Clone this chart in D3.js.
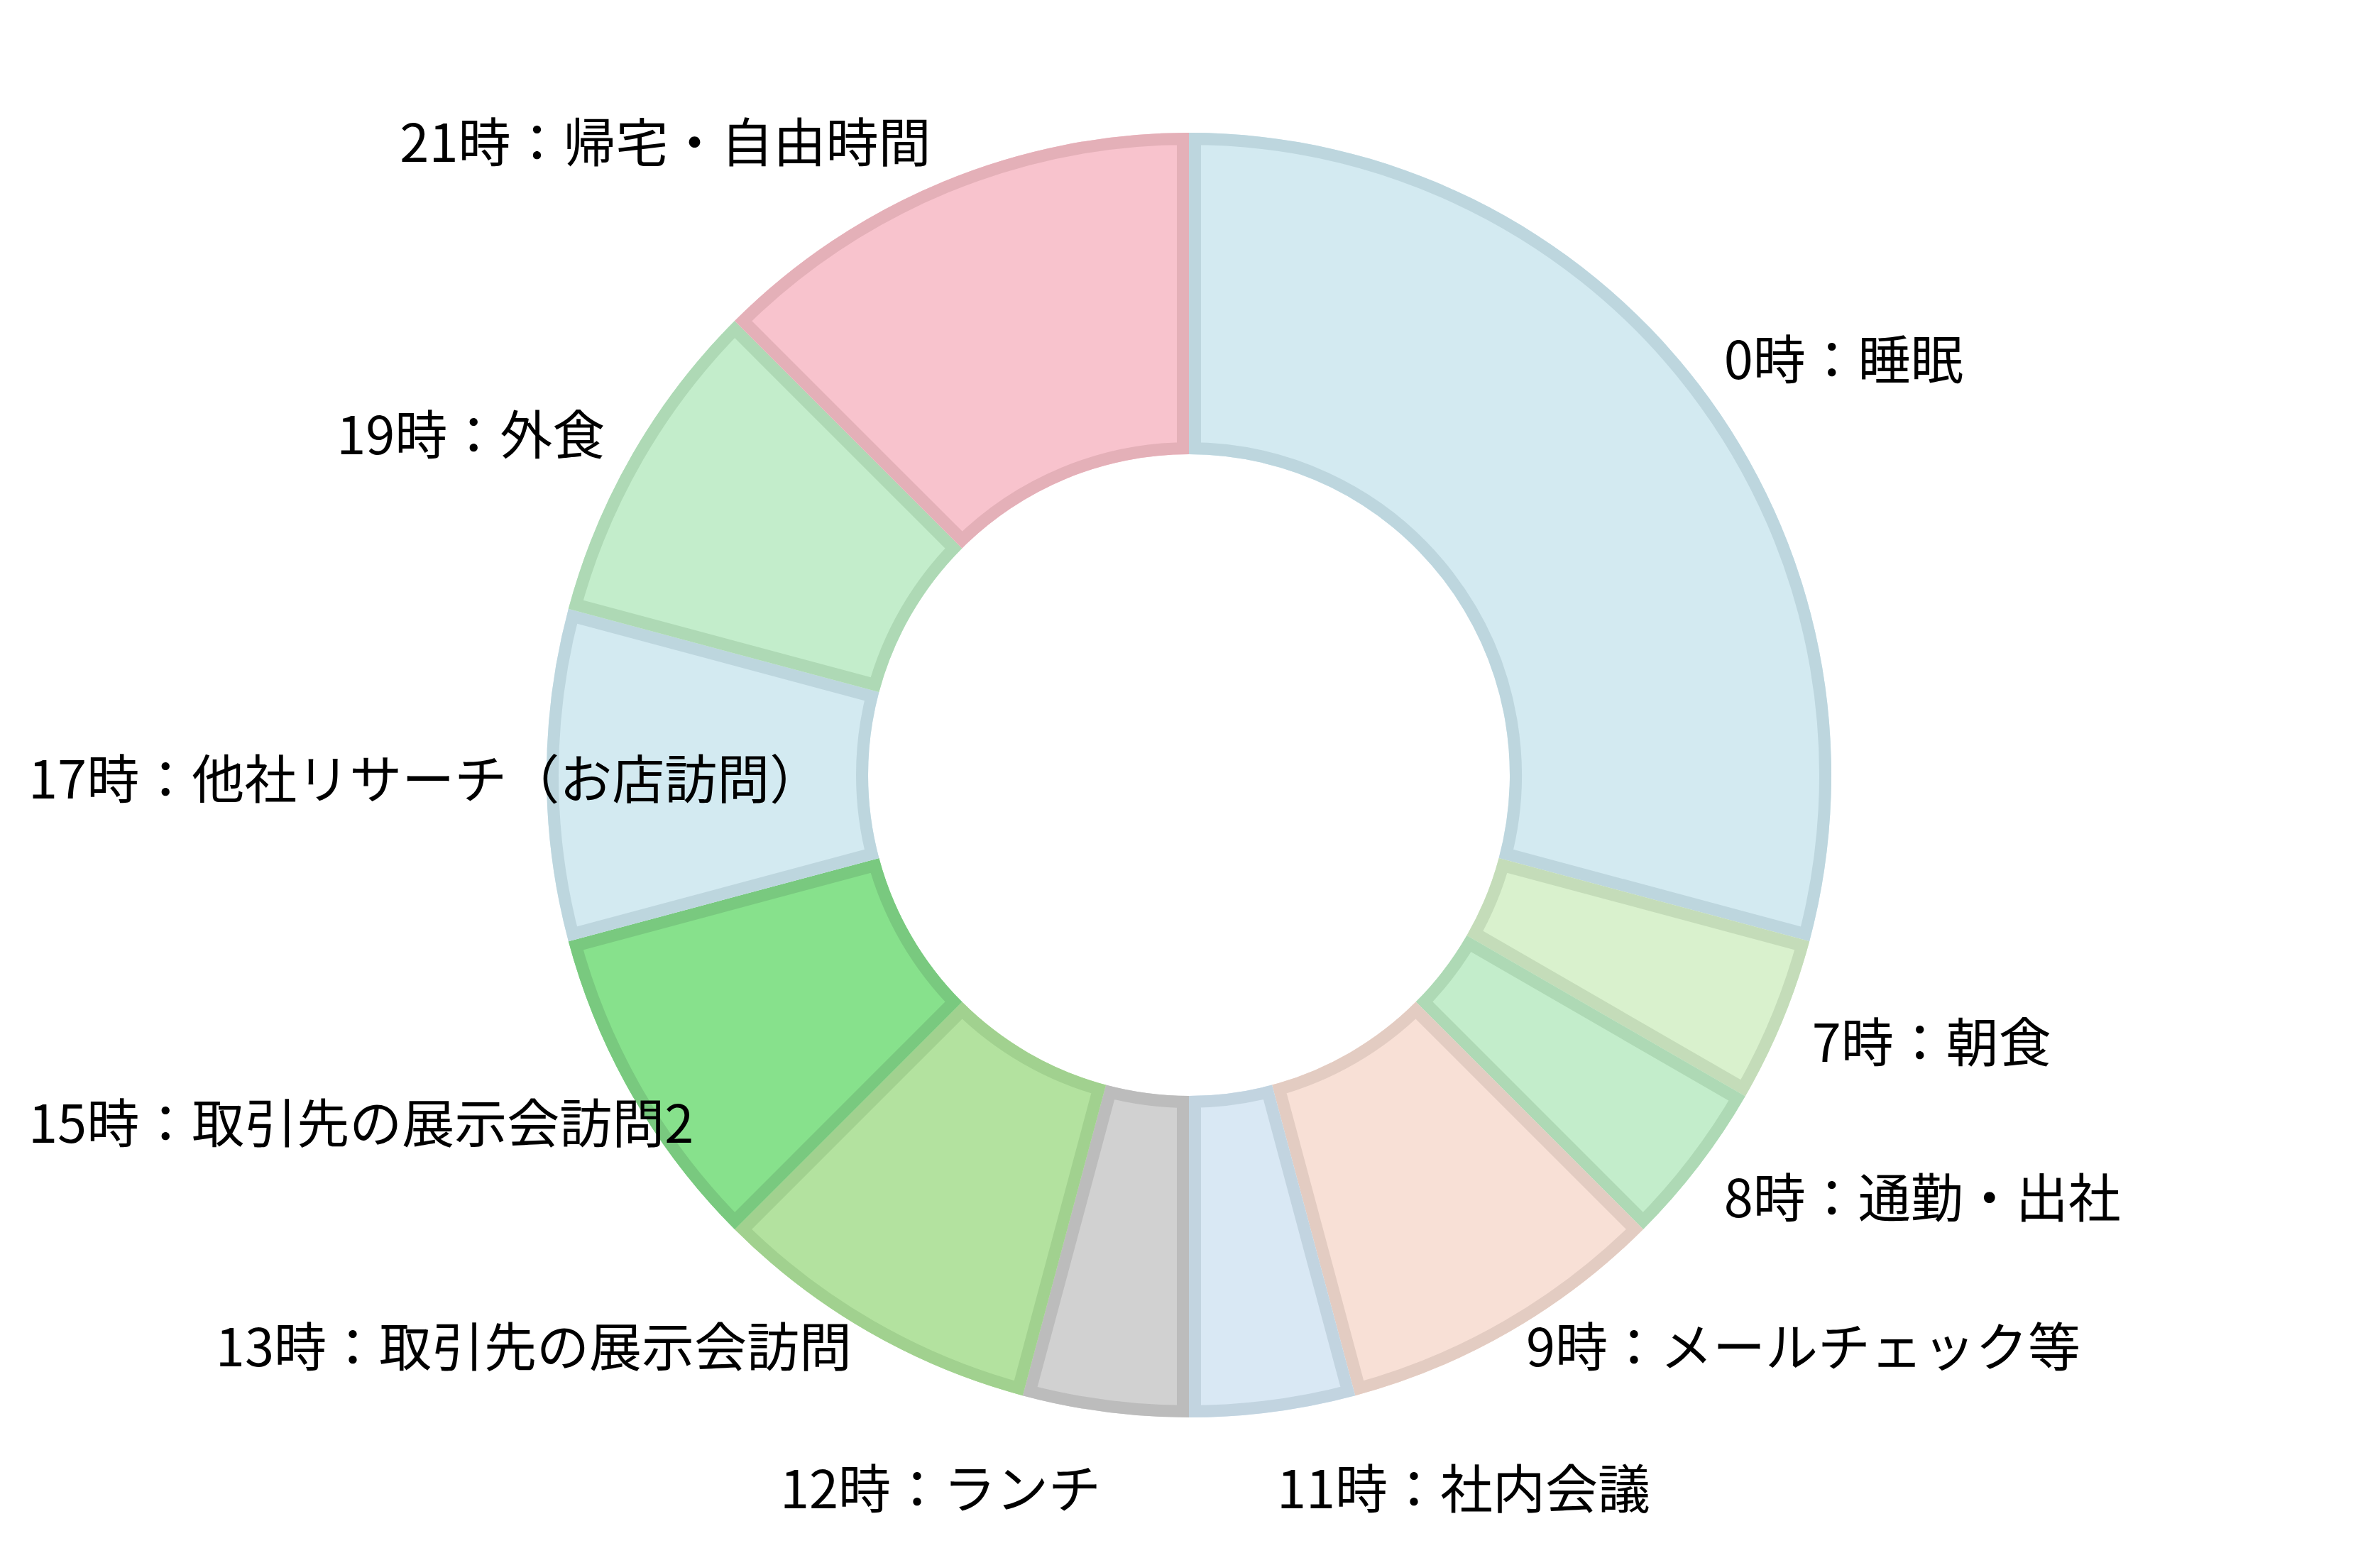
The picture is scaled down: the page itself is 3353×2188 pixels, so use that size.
<!DOCTYPE html>
<html>
<head>
<meta charset="utf-8">
<script src="https://cdn.jsdelivr.net/npm/d3@7"></script>
<style>
  html, body { margin: 0; padding: 0; background: #ffffff; }
  svg { display: block; }
  text { font-family: "Noto Sans CJK JP", "Noto Sans", sans-serif; }
</style>
</head>
<body>
<svg id="chart" width="3353" height="2188"></svg>
<script>
// ---- data ----
const categories = [
  "0時：睡眠",
  "7時：朝食",
  "8時：通勤・出社",
  "9時：メールチェック等",
  "11時：社内会議",
  "12時：ランチ",
  "13時：取引先の展示会訪問",
  "15時：取引先の展示会訪問2",
  "17時：他社リサーチ（お店訪問）",
  "19時：外食",
  "21時：帰宅・自由時間"
];
const hours = [7, 1, 1, 2, 1, 1, 2, 2, 2, 2, 3];
const fillColors = [
  "#d3eaf1", "#d9f1cd", "#c3edcb", "#f8e0d6", "#d9e8f4", "#d1d1d1",
  "#b3e29f", "#87e18c", "#d3eaf1", "#c3edcb", "#f8c3cd"
];
const borderColors = [
  "#bdd6de", "#c4dcb9", "#aed9b5", "#e3ccc2", "#c2d4e0", "#bcbcbc",
  "#a1d18f", "#79c97f", "#bdd6de", "#aed9b5", "#e4b0b8"
];

// ---- layout ----
const W = 3353, H = 2188;
const cx = 1675, cy = 1092;
const outerR = 905, innerR = 452;
const border = 17;
const labelRx = 950;
const labelRy = 970;
const labelSpacing = 200;
const fontSize = 74;
const edgePad = 40;

const svg = d3.select("#chart");
const defs = svg.append("defs");
const g = svg.append("g").attr("transform", `translate(${cx},${cy})`);

const data = categories.map((c, i) => ({ label: c, value: hours[i], fill: fillColors[i], stroke: borderColors[i] }));
const pie = d3.pie().sort(null).value(d => d.value).startAngle(0).endAngle(2 * Math.PI);
const arcs = pie(data);
const arc = d3.arc().innerRadius(innerR).outerRadius(outerR);

arcs.forEach((a, i) => {
  defs.append("clipPath").attr("id", "clip" + i)
    .append("path").attr("d", arc(a));
});

const slices = g.selectAll("g.slice").data(arcs).join("g").attr("class", "slice");
slices.append("path")
  .attr("d", arc)
  .attr("fill", d => d.data.fill);
slices.append("path")
  .attr("d", arc)
  .attr("fill", "none")
  .attr("stroke", d => d.data.stroke)
  .attr("stroke-width", border * 2)
  .attr("stroke-linejoin", "miter")
  .attr("clip-path", (d, i) => `url(#clip${i})`);

// ---- labels: placed outside, spread vertically per side ----
const labels = arcs.map((a, i) => {
  const mid = (a.startAngle + a.endAngle) / 2;
  return {
    i, text: a.data.label, mid,
    right: Math.sin(mid) > 0,
    x: labelRx * Math.sin(mid),
    target: -labelRy * Math.cos(mid)
  };
});

function distribute(items, size) {
  const sorted = items.slice().sort((a, b) => a.target - b.target);
  let groups = sorted.map(d => ({ members: [d] }));
  const pos = gr => d3.mean(gr.members, m => m.target);
  let changed = true;
  while (changed) {
    changed = false;
    for (let k = 0; k < groups.length - 1; k++) {
      const a = groups[k], b = groups[k + 1];
      const aEnd = pos(a) + a.members.length * size / 2;
      const bStart = pos(b) - b.members.length * size / 2;
      if (aEnd > bStart) {
        groups.splice(k, 2, { members: a.members.concat(b.members) });
        changed = true;
        break;
      }
    }
  }
  groups.forEach(gr => {
    const c = pos(gr);
    const n = gr.members.length;
    gr.members.forEach((m, k) => { m.y = c - (n - 1) * size / 2 + k * size; });
  });
}
distribute(labels.filter(l => l.right), labelSpacing);
distribute(labels.filter(l => !l.right), labelSpacing);

const texts = g.selectAll("text.lbl").data(labels).join("text")
  .attr("class", "lbl")
  .attr("x", d => d.x)
  .attr("y", d => d.y)
  .attr("text-anchor", d => d.right ? "start" : "end")
  .attr("dominant-baseline", "central")
  .attr("font-size", fontSize)
  .attr("fill", "#000000")
  .text(d => d.text);

// keep labels inside the canvas
texts.each(function (d) {
  const w = this.getComputedTextLength();
  if (!d.right) {
    const left = cx + d.x - w;
    if (left < edgePad) d3.select(this).attr("x", d.x + (edgePad - left));
  } else {
    const right = cx + d.x + w;
    if (right > W - edgePad) d3.select(this).attr("x", d.x - (right - (W - edgePad)));
  }
});
</script>
</body>
</html>
